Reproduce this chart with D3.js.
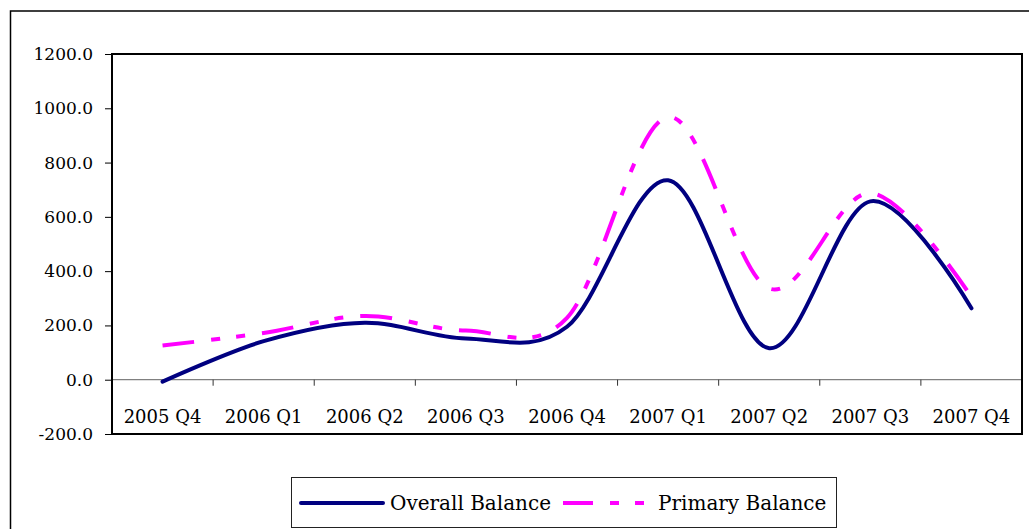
<!DOCTYPE html>
<html>
<head>
<meta charset="utf-8">
<script src="https://cdn.jsdelivr.net/npm/d3@7"></script>
<style>
  body { margin: 0; background: #fff; }
  svg { display: block; font-family: "DejaVu Serif", "Liberation Serif", serif; }
</style>
</head>
<body>
<svg width="1029" height="529"></svg>
<script>
// quarters on the x axis
const quarters = ["2005 Q4", "2006 Q1", "2006 Q2", "2006 Q3", "2006 Q4",
                  "2007 Q1", "2007 Q2", "2007 Q3", "2007 Q4"];
// values
const overallBalance = [-7, 142, 210, 152, 195, 735, 116, 657, 263];
const primaryBalance = [126, 172, 235, 181, 228, 968, 336, 688, 305];
const yTicks = [-200, 0, 200, 400, 600, 800, 1000, 1200];

const svg = d3.select("svg");

// outer chart border (runs off the right/bottom edge like the original)
svg.append("rect")
    .attr("x", 10.5).attr("y", 11)
    .attr("width", 1040).attr("height", 540)
    .attr("fill", "none").attr("stroke", "#000").attr("stroke-width", 1.5);

const plot = { left: 112, top: 54, right: 1022, bottom: 434 };

const x = d3.scaleBand()
    .domain(quarters)
    .range([plot.left, plot.right])
    .padding(0);

const y = d3.scaleLinear()
    .domain([-200, 1200])
    .range([plot.bottom, plot.top]);

/* y axis */
const fmt = d3.format(".1f");
const yAxis = d3.axisLeft(y)
    .tickValues(yTicks)
    .tickFormat(d => fmt(d).replace("\u2212", "-"))
    .tickSize(7)
    .tickPadding(12);

const gy = svg.append("g")
    .attr("transform", "translate(" + plot.left + ",0)")
    .call(yAxis);
gy.select(".domain").remove();
gy.selectAll("line").attr("stroke", "#000");
gy.selectAll("text")
    .attr("fill", "#000")
    .style("font-size", "17px")
    .style("font-family", "DejaVu Serif, serif");

/* zero line with category ticks */
svg.append("line")
    .attr("x1", plot.left).attr("x2", plot.right)
    .attr("y1", y(0)).attr("y2", y(0))
    .attr("stroke", "#808080").attr("stroke-width", 1.2);

svg.selectAll(".xtick").data(quarters.slice(1)).enter()
  .append("line")
    .attr("class", "xtick")
    .attr("x1", d => x(d)).attr("x2", d => x(d))
    .attr("y1", y(0)).attr("y2", y(0) + 6)
    .attr("stroke", "#333").attr("stroke-width", 1);

svg.selectAll(".xlabel").data(quarters).enter()
  .append("text")
    .attr("class", "xlabel")
    .attr("x", d => x(d) + x.bandwidth() / 2)
    .attr("y", 423)
    .attr("text-anchor", "middle")
    .style("font-size", "18px")
    .text(d => d);

/* series */
const line = d3.line()
    .x((d, i) => x(quarters[i]) + x.bandwidth() / 2)
    .y(d => y(d))
    .curve(d3.curveCatmullRom.alpha(0));

svg.append("path")
    .datum(overallBalance)
    .attr("d", line)
    .attr("fill", "none")
    .attr("stroke", "#000080")
    .attr("stroke-width", 4)
    .attr("stroke-linejoin", "round")
    .attr("stroke-linecap", "round");

svg.append("path")
    .datum(primaryBalance)
    .attr("d", line)
    .attr("fill", "none")
    .attr("stroke", "#ff00ff")
    .attr("stroke-width", 4)
    .attr("stroke-dasharray", "32,17,9,16,9,17");

/* plot frame */
svg.append("rect")
    .attr("x", plot.left).attr("y", plot.top)
    .attr("width", plot.right - plot.left)
    .attr("height", plot.bottom - plot.top)
    .attr("fill", "none").attr("stroke", "#000").attr("stroke-width", 2);

/* legend */
const legend = svg.append("g");
legend.append("rect")
    .attr("x", 291.5).attr("y", 477.5)
    .attr("width", 545).attr("height", 50)
    .attr("fill", "#fff").attr("stroke", "#222").attr("stroke-width", 1);

legend.append("line")
    .attr("x1", 301).attr("x2", 383)
    .attr("y1", 503).attr("y2", 503)
    .attr("stroke", "#000080").attr("stroke-width", 4)
    .attr("stroke-linecap", "round");
legend.append("text")
    .attr("x", 390).attr("y", 510)
    .style("font-size", "20px")
    .text("Overall Balance");

legend.append("line")
    .attr("x1", 563).attr("x2", 645)
    .attr("y1", 503).attr("y2", 503)
    .attr("stroke", "#ff00ff").attr("stroke-width", 4)
    .attr("stroke-dasharray", "30,17,9,16,9,17");
legend.append("text")
    .attr("x", 658).attr("y", 510)
    .style("font-size", "20px")
    .text("Primary Balance");
</script>
</body>
</html>
